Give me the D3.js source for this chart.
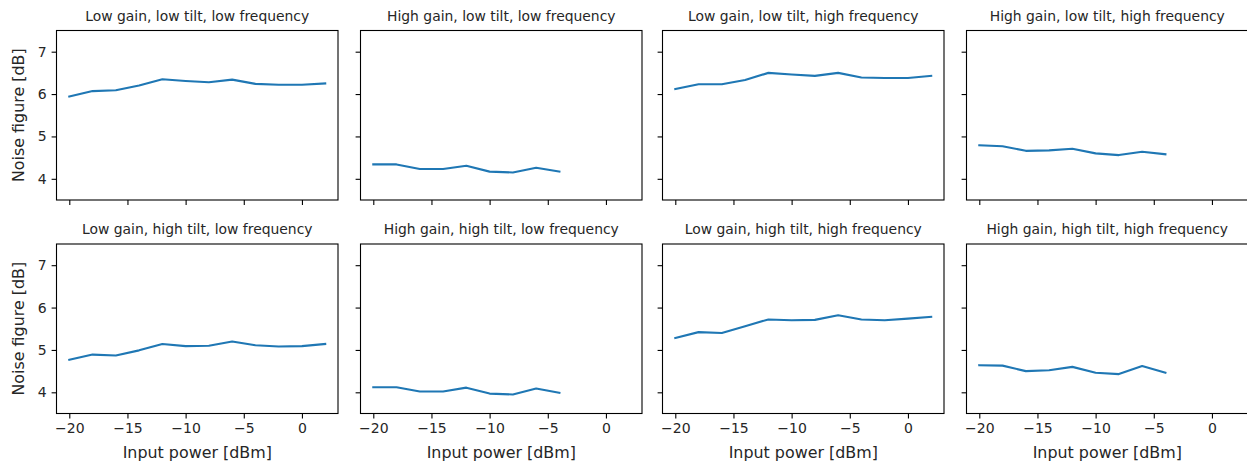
<!DOCTYPE html>
<html>
<head>
<meta charset="utf-8">
<script src="https://cdn.jsdelivr.net/npm/d3@7"></script>
<style>
  body { margin: 0; background: #fff; }
  svg { display: block; font-family: "DejaVu Sans", sans-serif; }
</style>
</head>
<body>
<div id="chart"></div>
<script>
// Входная мощность, дБм
const powerFull = [-20, -18, -16, -14, -12, -10, -8, -6, -4, -2, 0, 2];
const powerShort = [-20, -18, -16, -14, -12, -10, -8, -6, -4];

// Коэффициент шума, дБ (по панелям)
const lowGainLowTiltLowFreq = [5.94, 6.07, 6.09, 6.2, 6.35, 6.31, 6.28, 6.34, 6.24, 6.22, 6.22, 6.25];
const highGainLowTiltLowFreq = [4.34, 4.34, 4.23, 4.23, 4.31, 4.17, 4.15, 4.26, 4.17];
const lowGainLowTiltHighFreq = [6.12, 6.23, 6.23, 6.33, 6.5, 6.46, 6.43, 6.5, 6.39, 6.38, 6.38, 6.43];
const highGainLowTiltHighFreq = [4.79, 4.77, 4.66, 4.67, 4.71, 4.6, 4.56, 4.64, 4.58];
const lowGainHighTiltLowFreq = [4.77, 4.89, 4.87, 4.99, 5.14, 5.09, 5.1, 5.2, 5.11, 5.08, 5.09, 5.14];
const highGainHighTiltLowFreq = [4.12, 4.12, 4.02, 4.02, 4.11, 3.97, 3.95, 4.09, 3.99];
const lowGainHighTiltHighFreq = [5.28, 5.42, 5.4, 5.56, 5.72, 5.7, 5.71, 5.82, 5.72, 5.7, 5.74, 5.78];
const highGainHighTiltHighFreq = [4.64, 4.63, 4.5, 4.52, 4.6, 4.46, 4.43, 4.62, 4.46];

const panelTitles = [
  "Low gain, low tilt, low frequency",
  "High gain, low tilt, low frequency",
  "Low gain, low tilt, high frequency",
  "High gain, low tilt, high frequency",
  "Low gain, high tilt, low frequency",
  "High gain, high tilt, low frequency",
  "Low gain, high tilt, high frequency",
  "High gain, high tilt, high frequency",
];

const xTicks = [-20, -15, -10, -5, 0];
const yTicks = [4, 5, 6, 7];
const xLabel = "Input power [dBm]";
const yLabel = "Noise figure [dB]";

const panels = [
  { x: powerFull, y: lowGainLowTiltLowFreq },
  { x: powerShort, y: highGainLowTiltLowFreq },
  { x: powerFull, y: lowGainLowTiltHighFreq },
  { x: powerShort, y: highGainLowTiltHighFreq },
  { x: powerFull, y: lowGainHighTiltLowFreq },
  { x: powerShort, y: highGainHighTiltLowFreq },
  { x: powerFull, y: lowGainHighTiltHighFreq },
  { x: powerShort, y: highGainHighTiltHighFreq },
];

const width = 1247;
const height = 466;
const panelWidth = 281.5;
const panelHeight = 169.5;
const lefts = [56.5, 360.5, 662.5, 966.5];
const tops = [30.5, 244];
const lineColor = "#1f77b4";
const textColor = "#262626";

const svg = d3
  .select("#chart")
  .append("svg")
  .attr("width", width)
  .attr("height", height)
  .attr("viewBox", `0 0 ${width} ${height}`);

const xScale = d3.scaleLinear().domain([-21.1, 3.1]).range([0, panelWidth]);
const yScale = d3.scaleLinear().domain([3.5, 7.5]).range([panelHeight, 0]);
const fmt = d3.format("d");

panels.forEach((panel, index) => {
  const row = Math.floor(index / 4);
  const col = index % 4;
  const g = svg
    .append("g")
    .attr("transform", `translate(${lefts[col]}, ${tops[row]})`);

  // Ось X (подписи только в нижнем ряду)
  const xAxis = g
    .append("g")
    .attr("transform", `translate(0, ${panelHeight})`)
    .call(
      d3
        .axisBottom(xScale)
        .tickValues(xTicks)
        .tickSize(4.9)
        .tickPadding(4.9)
        .tickFormat(row === 1 ? fmt : "")
    );

  // Ось Y (подписи только в левом столбце)
  const yAxis = g.append("g").call(
    d3
      .axisLeft(yScale)
      .tickValues(yTicks)
      .tickSize(4.9)
      .tickPadding(4.9)
      .tickFormat(col === 0 ? fmt : "")
  );

  [xAxis, yAxis].forEach((ax) => {
    ax.select(".domain").remove();
    ax.selectAll(".tick line").attr("stroke", "#000").attr("stroke-width", 1.1);
    ax.selectAll(".tick text")
      .attr("fill", textColor)
      .attr("font-size", "14px")
      .attr("font-family", "DejaVu Sans");
  });

  const line = d3
    .line()
    .x((d, i) => xScale(panel.x[i]))
    .y((d) => yScale(d));

  g.append("path")
    .datum(panel.y)
    .attr("fill", "none")
    .attr("stroke", lineColor)
    .attr("stroke-width", 2.1)
    .attr("stroke-linejoin", "round")
    .attr("stroke-linecap", "square")
    .attr("d", line);

  // Рамка
  g.append("rect")
    .attr("x", 0)
    .attr("y", 0)
    .attr("width", panelWidth)
    .attr("height", panelHeight)
    .attr("fill", "none")
    .attr("stroke", "#000")
    .attr("stroke-width", 1.1);

  g.append("text")
    .attr("x", panelWidth / 2)
    .attr("y", -10)
    .attr("text-anchor", "middle")
    .attr("font-size", "13.9px")
    .attr("fill", textColor)
    .text(panelTitles[index]);

  if (row === 1) {
    g.append("text")
      .attr("x", panelWidth / 2)
      .attr("y", panelHeight + 44)
      .attr("text-anchor", "middle")
      .attr("font-size", "15.9px")
      .attr("fill", textColor)
      .text(xLabel);
  }

  if (col === 0) {
    g.append("text")
      .attr("transform", `translate(${-32.5}, ${panelHeight / 2}) rotate(-90)`)
      .attr("text-anchor", "middle")
      .attr("font-size", "15.9px")
      .attr("fill", textColor)
      .text(yLabel);
  }
});
</script>
</body>
</html>
